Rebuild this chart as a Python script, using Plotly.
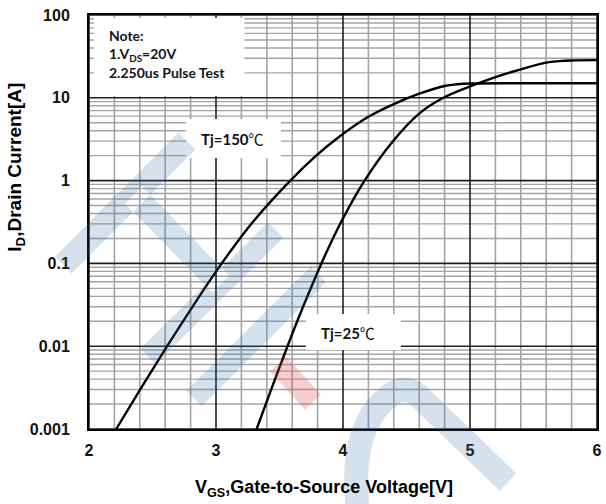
import numpy as np
import plotly.graph_objects as go

# ---- transfer characteristic data (VGS in volts, ID in amps) ----
vgs_150 = [2.214, 2.412, 2.615, 2.825, 3.045, 3.29, 3.585, 3.78, 3.96, 4.20, 4.40, 4.60, 4.80, 4.90, 5.00, 5.50, 6.00]
id_150 = [0.001, 0.00316, 0.01, 0.0316, 0.1, 0.316, 1.0, 1.95, 3.3, 5.9, 8.4, 11.2, 13.9, 14.6, 14.9, 15.0, 15.0]

vgs_25 = [3.32, 3.44, 3.563, 3.692, 3.83, 3.985, 4.17, 4.39, 4.60, 4.79, 5.00, 5.20, 5.40, 5.60, 5.70, 5.80, 6.00]
id_25 = [0.001, 0.00316, 0.01, 0.0316, 0.1, 0.316, 1.0, 2.95, 6.45, 10.0, 13.7, 17.8, 22.1, 26.6, 27.7, 28.25, 28.5]

x_ticks = [2, 3, 4, 5, 6]
y_ticks = [0.001, 0.01, 0.1, 1, 10, 100]
y_tick_text = ["0.001", "0.01", "0.1", "1", "10", "100"]

# ---- canvas geometry ----
W, H = 606, 504
ML, MR, MT, MB = 89, 4, 15, 75
PW, PH = W - ML - MR, H - MT - MB


def px(x):
    """pixel column -> paper x"""
    return (x - ML) / PW


def py(y):
    """pixel row -> paper y"""
    return (H - MB - y) / PH


shapes = []

# ---- grid: minor lines first, then decade / integer lines ----
GRAY = "#a3a3a3"
DARK = "#202020"
x_minor = [round(v, 1) for v in np.arange(2.0, 6.0001, 0.2) if abs(v - round(v)) > 1e-6]
y_minor = [m * 10.0 ** e for e in range(-3, 2) for m in range(2, 10)]

for yv in y_minor:
    shapes.append(dict(type="line", xref="paper", yref="y", x0=0, x1=1,
                       y0=yv, y1=yv, layer="below",
                       line=dict(color=GRAY, width=1.4)))
for xv in x_minor:
    shapes.append(dict(type="line", xref="x", yref="paper", x0=xv, x1=xv,
                       y0=0, y1=1, layer="below",
                       line=dict(color=GRAY, width=1.6)))
for yv in y_ticks:
    shapes.append(dict(type="line", xref="paper", yref="y", x0=0, x1=1,
                       y0=yv, y1=yv, layer="below",
                       line=dict(color=DARK, width=1.6)))
for xv in x_ticks:
    shapes.append(dict(type="line", xref="x", yref="paper", x0=xv, x1=xv,
                       y0=0, y1=1, layer="below",
                       line=dict(color=DARK, width=1.6)))

# ---- white label boxes over the grid ----
for (x0, y0, x1, y1) in [(94, 18, 246, 96), (187, 119, 283, 158), (308, 314, 404, 350)]:
    shapes.append(dict(type="rect", xref="paper", yref="paper",
                       x0=px(x0), x1=px(x1), y0=py(y1), y1=py(y0),
                       fillcolor="white", line=dict(width=0), layer="between"))


# ---- faint logo watermark ----
def strip(p, q, w):
    (x0, y0), (x1, y1) = p, q
    dx, dy = x1 - x0, y1 - y0
    n = np.hypot(dx, dy)
    nx, ny = -dy / n * w / 2, dx / n * w / 2
    pts = [(x0 + nx, y0 + ny), (x1 + nx, y1 + ny), (x1 - nx, y1 - ny), (x0 - nx, y0 - ny)]
    return "M " + " L ".join(f"{px(a):.5f},{py(b):.5f}" for a, b in pts) + " Z"


BLUE = "rgba(47,106,163,0.20)"
RED = "rgba(228,70,70,0.26)"
blue_path = " ".join([
    strip((188, 141), (63, 265), 24),
    strip((134, 195), (222, 284), 24),
    strip((277.5, 230), (148.5, 356.5), 22),
    strip((320.5, 274.5), (195, 398.5), 22),
])
shapes.append(dict(type="path", xref="paper", yref="paper", path=blue_path,
                   fillcolor=BLUE, line=dict(width=0), layer="above"))
shapes.append(dict(type="path", xref="paper", yref="paper",
                   path=strip((280, 364), (315, 402), 22),
                   fillcolor=RED, line=dict(width=0), layer="above"))
c_path = (f"M {px(360):.5f},{py(506):.5f} "
          f"Q {px(352):.5f},{py(420):.5f} {px(398):.5f},{py(392):.5f} "
          f"Q {px(410):.5f},{py(386):.5f} {px(422):.5f},{py(396):.5f} "
          f"L {px(512):.5f},{py(482):.5f}")
shapes.append(dict(type="path", xref="paper", yref="paper", path=c_path,
                   fillcolor="rgba(0,0,0,0)", line=dict(color=BLUE, width=24),
                   layer="above"))

# ---- curves ----
fig = go.Figure()
for xs, ys in [(vgs_150, id_150), (vgs_25, id_25)]:
    fig.add_trace(go.Scatter(x=xs, y=ys, mode="lines",
                             line=dict(color="black", width=2.4, shape="spline", smoothing=1.0),
                             hoverinfo="skip", showlegend=False))

# ---- text ----
NOTE_FONT = dict(family="Lato, Noto Sans, sans-serif", size=14, color="#141420", weight="bold")
LBL_FONT = dict(family="Lato, Noto Sans, sans-serif", size=15, color="#101018", weight="bold")
TITLE_FONT = dict(family="Liberation Sans, Arial, sans-serif", size=18, color="black", weight="bold")
CELSIUS = "<span style='font-family:Noto Sans CJK SC;font-weight:normal'>℃</span>"

annotations = [
    dict(text="Note:", x=px(107), y=py(35), xanchor="left", yanchor="middle", font=NOTE_FONT),
    dict(text="1.V<sub>DS</sub>=20V", x=px(107), y=py(55), xanchor="left", yanchor="middle", font=NOTE_FONT),
    dict(text="2.250us Pulse Test", x=px(107), y=py(73), xanchor="left", yanchor="middle", font=NOTE_FONT),
    dict(text="Tj=150" + CELSIUS, x=px(234), y=py(138), xanchor="center", yanchor="middle", font=LBL_FONT),
    dict(text="Tj=25" + CELSIUS, x=px(351), y=py(332), xanchor="center", yanchor="middle", font=LBL_FONT),
    dict(text="V<sub>GS</sub>,Gate-to-Source Voltage[V]", x=px(326), y=py(488),
         xanchor="center", yanchor="middle", font=TITLE_FONT),
    dict(text="I<sub>D</sub>,Drain Current[A]", x=px(15), y=py(167), textangle=-90,
         xanchor="center", yanchor="middle", font=dict(TITLE_FONT, size=19)),
]
for a in annotations:
    a.update(xref="paper", yref="paper", showarrow=False)

TICK_FONT = dict(family="Liberation Sans, Arial, sans-serif", size=16, color="#111111", weight="bold")
fig.update_layout(
    width=W, height=H,
    margin=dict(l=ML, r=MR, t=MT, b=MB),
    paper_bgcolor="white", plot_bgcolor="white",
    shapes=shapes, annotations=annotations,
    xaxis=dict(range=[2, 6], tickvals=x_ticks, showgrid=False, zeroline=False,
               showline=True, mirror=True, linecolor="black", linewidth=2,
               ticks="", tickfont=TICK_FONT, ticklabelstandoff=6),
    yaxis=dict(type="log", range=[-3, 2], tickvals=y_ticks, ticktext=y_tick_text,
               showgrid=False, zeroline=False, showline=True, mirror=True,
               linecolor="black", linewidth=2, ticks="", tickfont=TICK_FONT,
               ticklabelstandoff=14),
)

fig.write_html("out.html")
